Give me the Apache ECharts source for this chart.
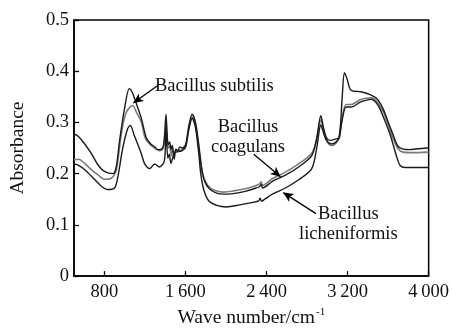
<!DOCTYPE html>
<html><head><meta charset="utf-8">
<script src="https://cdn.jsdelivr.net/npm/echarts@6/dist/echarts.min.js"></script>
<style>html,body{margin:0;padding:0;background:#fff}#c{width:452px;height:333px}</style>
</head><body><div id="c"></div>
<script>
// Tick labels
var xTicks = [800, 1600, 2400, 3200, 4000];
var yTicks = [0, 0.1, 0.2, 0.3, 0.4, 0.5];

// Top dark spectrum
var specAX = [500,546,610,675,740,804,885,917,949,997,1046,1072,1101,1166,1215,1263,1300,1327,1375,1392,1408,1421,1431,1445,1457,1470,1489,1505,1521,1545,1569,1602,1634,1666,1699,1731,1763,1796,1845,1909,1974,2070,2200,2297,2332,2347,2361,2458,2587,2717,2846,2895,2936,2962,2992,3030,3088,3118,3147,3169,3195,3234,3331,3428,3496,3554,3602,3651,3699,3748,3816,3990,4000];
var specAY = [0.278,0.272,0.257,0.238,0.216,0.204,0.200,0.213,0.263,0.325,0.366,0.360,0.345,0.307,0.269,0.257,0.252,0.247,0.250,0.270,0.316,0.270,0.257,0.262,0.247,0.255,0.228,0.248,0.244,0.252,0.250,0.257,0.294,0.316,0.300,0.257,0.207,0.182,0.169,0.162,0.160,0.161,0.166,0.172,0.175,0.179,0.172,0.185,0.197,0.213,0.235,0.270,0.313,0.290,0.270,0.265,0.268,0.270,0.350,0.397,0.385,0.363,0.360,0.354,0.345,0.325,0.300,0.275,0.253,0.248,0.247,0.250,0.250];

// Middle grey spectrum
var specBX = [500,546,610,675,740,804,868,917,965,1014,1079,1118,1166,1198,1237,1295,1343,1375,1392,1408,1421,1431,1445,1460,1475,1489,1510,1528,1569,1602,1634,1666,1699,1731,1763,1796,1845,1909,1974,2070,2200,2297,2332,2347,2361,2458,2587,2717,2846,2895,2936,2962,2992,3040,3088,3118,3147,3185,3234,3331,3428,3496,3554,3602,3651,3699,3748,3816,4000];
var specBY = [0.227,0.228,0.219,0.207,0.197,0.189,0.191,0.207,0.275,0.319,0.333,0.319,0.300,0.272,0.260,0.250,0.245,0.248,0.265,0.300,0.262,0.250,0.255,0.235,0.248,0.240,0.246,0.245,0.248,0.255,0.290,0.310,0.295,0.250,0.205,0.185,0.172,0.166,0.164,0.166,0.171,0.177,0.180,0.184,0.177,0.190,0.203,0.219,0.240,0.265,0.305,0.285,0.265,0.255,0.260,0.275,0.310,0.335,0.335,0.345,0.348,0.340,0.320,0.295,0.268,0.248,0.242,0.241,0.242];

// Bottom dark spectrum
var specCX = [500,546,610,707,772,836,900,933,981,1030,1056,1094,1120,1166,1198,1247,1295,1343,1392,1408,1426,1440,1457,1475,1489,1528,1569,1602,1634,1666,1699,1731,1751,1780,1829,1909,2006,2136,2265,2323,2337,2352,2381,2458,2587,2717,2846,2895,2936,2962,2992,3040,3088,3118,3147,3185,3234,3331,3428,3496,3554,3622,3686,3719,3767,4000];
var specCY = [0.219,0.216,0.207,0.188,0.175,0.169,0.172,0.194,0.250,0.288,0.294,0.275,0.262,0.238,0.219,0.210,0.219,0.213,0.225,0.290,0.230,0.238,0.220,0.232,0.240,0.243,0.245,0.252,0.287,0.308,0.290,0.240,0.200,0.169,0.147,0.138,0.135,0.139,0.144,0.147,0.152,0.146,0.150,0.160,0.172,0.188,0.210,0.250,0.295,0.280,0.265,0.258,0.262,0.270,0.305,0.330,0.330,0.340,0.345,0.335,0.310,0.275,0.232,0.216,0.212,0.212];

function zip(xs, ys){ return xs.map(function(x,i){ return [x, ys[i]]; }); }

var serif = '"Liberation Serif","DejaVu Serif",serif';
var chart = echarts.init(document.getElementById('c'), null, {renderer:'canvas'});

function arrow(a, b){
  return [{coord:a},{coord:b}];
}

chart.setOption({
  animation:false,
  backgroundColor:'#fff',
  grid:{left:68,right:23,top:20,bottom:46,show:true,borderColor:'#000',borderWidth:1.5,backgroundColor:'transparent'},
  xAxis:{
    type:'value', min:500, max:4000,
    name:'Wave number/cm{sup|-1}', nameLocation:'middle', nameGap:29,
    nameTextStyle:{fontFamily:serif,fontSize:19.5,color:'#111',
      rich:{sup:{fontFamily:serif,fontSize:11,color:'#111',verticalAlign:'top',padding:[0,0,11,1]}}},
    axisLine:{show:true,lineStyle:{color:'#000',width:1.5}},
    axisTick:{show:true,inside:true,length:5,lineStyle:{color:'#000',width:1.3},customValues:xTicks},
    axisLabel:{customValues:xTicks,fontFamily:serif,fontSize:18.5,color:'#111',margin:7,
      formatter:function(v){ var s=String(v); return s.length>3 ? s.slice(0,s.length-3)+'\u2009'+s.slice(-3) : s; }},
    splitLine:{show:false}
  },
  yAxis:{
    type:'value', min:0, max:0.5, interval:0.1,
    name:'Absorbance', nameLocation:'middle', nameGap:46,
    nameTextStyle:{fontFamily:serif,fontSize:19.5,color:'#111'},
    axisLine:{show:true,lineStyle:{color:'#000',width:1.5}},
    axisTick:{show:true,inside:true,length:5,lineStyle:{color:'#000',width:1.3}},
    axisLabel:{fontFamily:serif,fontSize:18.5,color:'#111',margin:5,
      formatter:function(v){ return v===0 ? '0' : v.toFixed(1); }},
    splitLine:{show:false}
  },
  series:[
    {type:'line',data:zip(specAX,specAY),showSymbol:false,smooth:0.3,
      lineStyle:{color:'#1a1a1a',width:1.4},z:3,
      markLine:{silent:true,symbol:['none','arrow'],symbolSize:[7,10],label:{show:false},
        lineStyle:{color:'#000',width:1.3,type:'solid'},
        data:[arrow([1327,0.372],[1085,0.338]), arrow([2274,0.238],[2539,0.194]), arrow([2888,0.122],[2565,0.163])]}},
    {type:'line',data:zip(specBX,specBY),showSymbol:false,smooth:0.3,
      lineStyle:{color:'#7a7a7a',width:1.6},z:2},
    {type:'line',data:zip(specCX,specCY),showSymbol:false,smooth:0.3,
      lineStyle:{color:'#1a1a1a',width:1.4},z:3}
  ],
  graphic:[
    {type:'text',left:155,top:77,style:{text:'Bacillus subtilis',font:'18.5px '+serif,fill:'#111'}},
    {type:'text',left:211,top:117,style:{text:'Bacillus\ncoagulans',font:'18.5px '+serif,fill:'#111',lineHeight:20,textAlign:'center'}},
    {type:'text',left:299,top:204,style:{text:'Bacillus\nlicheniformis',font:'18.5px '+serif,fill:'#111',lineHeight:20,textAlign:'center'}}
  ]
});
</script></body></html>
